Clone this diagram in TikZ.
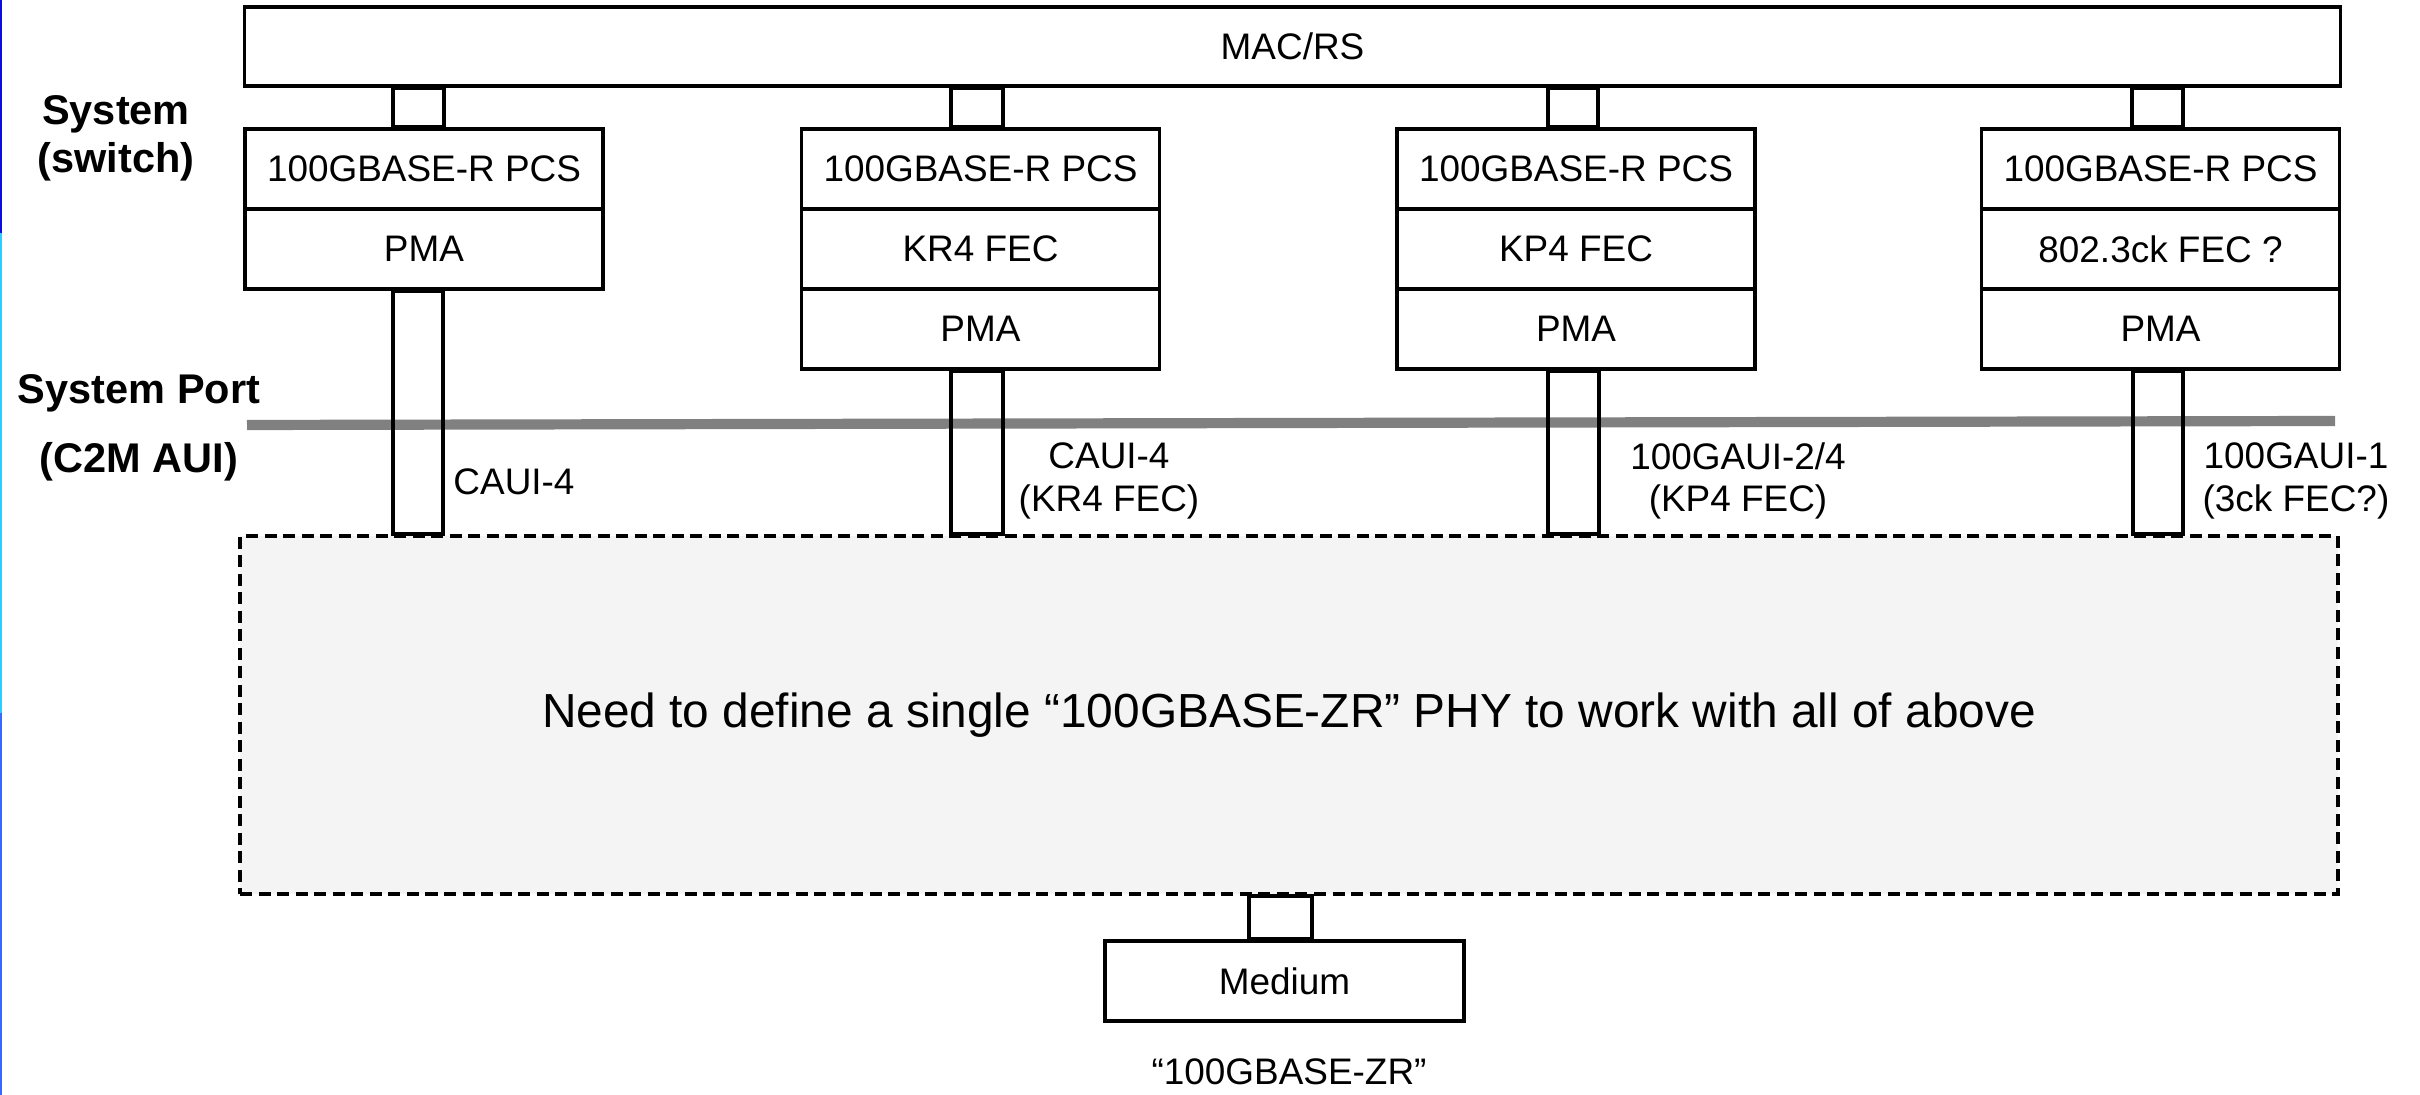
\documentclass[tikz,border=0pt]{standalone}
\usepackage{fontspec}
\setmainfont{Liberation Sans}
\definecolor{phyfill}{RGB}{244,244,244}
\definecolor{portline}{RGB}{128,128,128}
\definecolor{stripA}{RGB}{12,12,222}
\definecolor{stripB}{RGB}{45,205,255}
\definecolor{stripC}{RGB}{55,105,255}
\tikzset{
  blk/.style={draw, line width=1pt, inner sep=0pt, minimum width=3.58cm, minimum height=0.80cm,
              font=\fontsize{10.5pt}{12.2pt}\selectfont},
  portbox/.style={draw, line width=1pt},
  lbl/.style={font=\fontsize{10.5pt}{12.2pt}\selectfont, inner sep=0pt, align=center},
  sidelbl/.style={font=\bfseries\fontsize{11.8pt}{13.6pt}\selectfont, inner sep=0pt, align=center},
  phybox/.style={draw, line width=1.15pt, dash pattern=on 0.12cm off 0.065cm, fill=phyfill,
                 inner sep=0pt, font=\fontsize{13.6pt}{16pt}\selectfont},
}
\begin{document}
\begin{tikzpicture}[x=0.01cm, y=-0.01cm]
\useasboundingbox (0,0) rectangle (2420,1095);
% left edge strip
\fill[stripA] (0,0) rectangle (2,233);
\fill[stripB] (0,233) rectangle (2,713);
\fill[stripC] (0,713) rectangle (2,1095);
% system port line
\coordinate (gl) at (247,425);
\coordinate (gr) at (2335,421);
\draw[portline, line width=2.9pt] (gl) -- (gr);
% MAC/RS
\node[blk, minimum width=20.95cm, minimum height=0.79cm] (mac) at (1292.5,46.5) {MAC/RS};
% column 1
\node[blk] (s1a) at (424,169) {100GBASE-R PCS};
\node[blk] (s1b) at (424,249) {PMA};
% column 2
\node[blk] (s2a) at (980.5,169) {100GBASE-R PCS};
\node[blk] (s2b) at (980.5,249) {KR4 FEC};
\node[blk] (s2c) at (980.5,329) {PMA};
% column 3
\node[blk] (s3a) at (1576,169) {100GBASE-R PCS};
\node[blk] (s3b) at (1576,249) {KP4 FEC};
\node[blk] (s3c) at (1576,329) {PMA};
% column 4
\node[blk] (s4a) at (2160.5,169) {100GBASE-R PCS};
\node[blk] (s4b) at (2160.5,249) {802.3ck FEC ?};
\node[blk] (s4c) at (2160.5,329) {PMA};
% PHY box
\node[phybox, minimum width=20.96cm, minimum height=3.58cm] (phy) at (1289,715)
  {Need to define a single “100GBASE-ZR” PHY to work with all of above};
% Medium
\node[blk, minimum width=3.59cm] (med) at (1284.5,981) {Medium};
% ports
\draw[portbox] (393,0 |- mac.south) rectangle (444,0 |- s1a.north);
\draw[portbox] (951,0 |- mac.south) rectangle (1003,0 |- s2a.north);
\draw[portbox] (1548,0 |- mac.south) rectangle (1598,0 |- s3a.north);
\draw[portbox] (2132,0 |- mac.south) rectangle (2183,0 |- s4a.north);
\draw[portbox] (393,0 |- s1b.south) rectangle (443,0 |- phy.north);
\draw[portbox] (951,0 |- s2c.south) rectangle (1003,0 |- phy.north);
\draw[portbox] (1548,0 |- s3c.south) rectangle (1599,0 |- phy.north);
\draw[portbox] (2133,0 |- s4c.south) rectangle (2183,0 |- phy.north);
\draw[portbox] (1249,0 |- phy.south) rectangle (1312,0 |- med.north);
% labels
\node[sidelbl] (sys) at (116,138) {System\\(switch)};
\node[sidelbl] (sp) at (139,393) {System Port};
\node[sidelbl] (c2m) at (139,462) {(C2M AUI)};
\node[lbl] (l1) at (514,482) {CAUI-4};
\node[lbl] (l2) at (1109,481) {CAUI-4\\(KR4 FEC)};
\node[lbl] (l3) at (1738,481) {100GAUI-2/4\\(KP4 FEC)};
\node[lbl] (l4) at (2296,481) {100GAUI-1\\(3ck FEC?)};
\node[lbl] (zr) at (1289,1072) {“100GBASE-ZR”};
\end{tikzpicture}
\end{document}
